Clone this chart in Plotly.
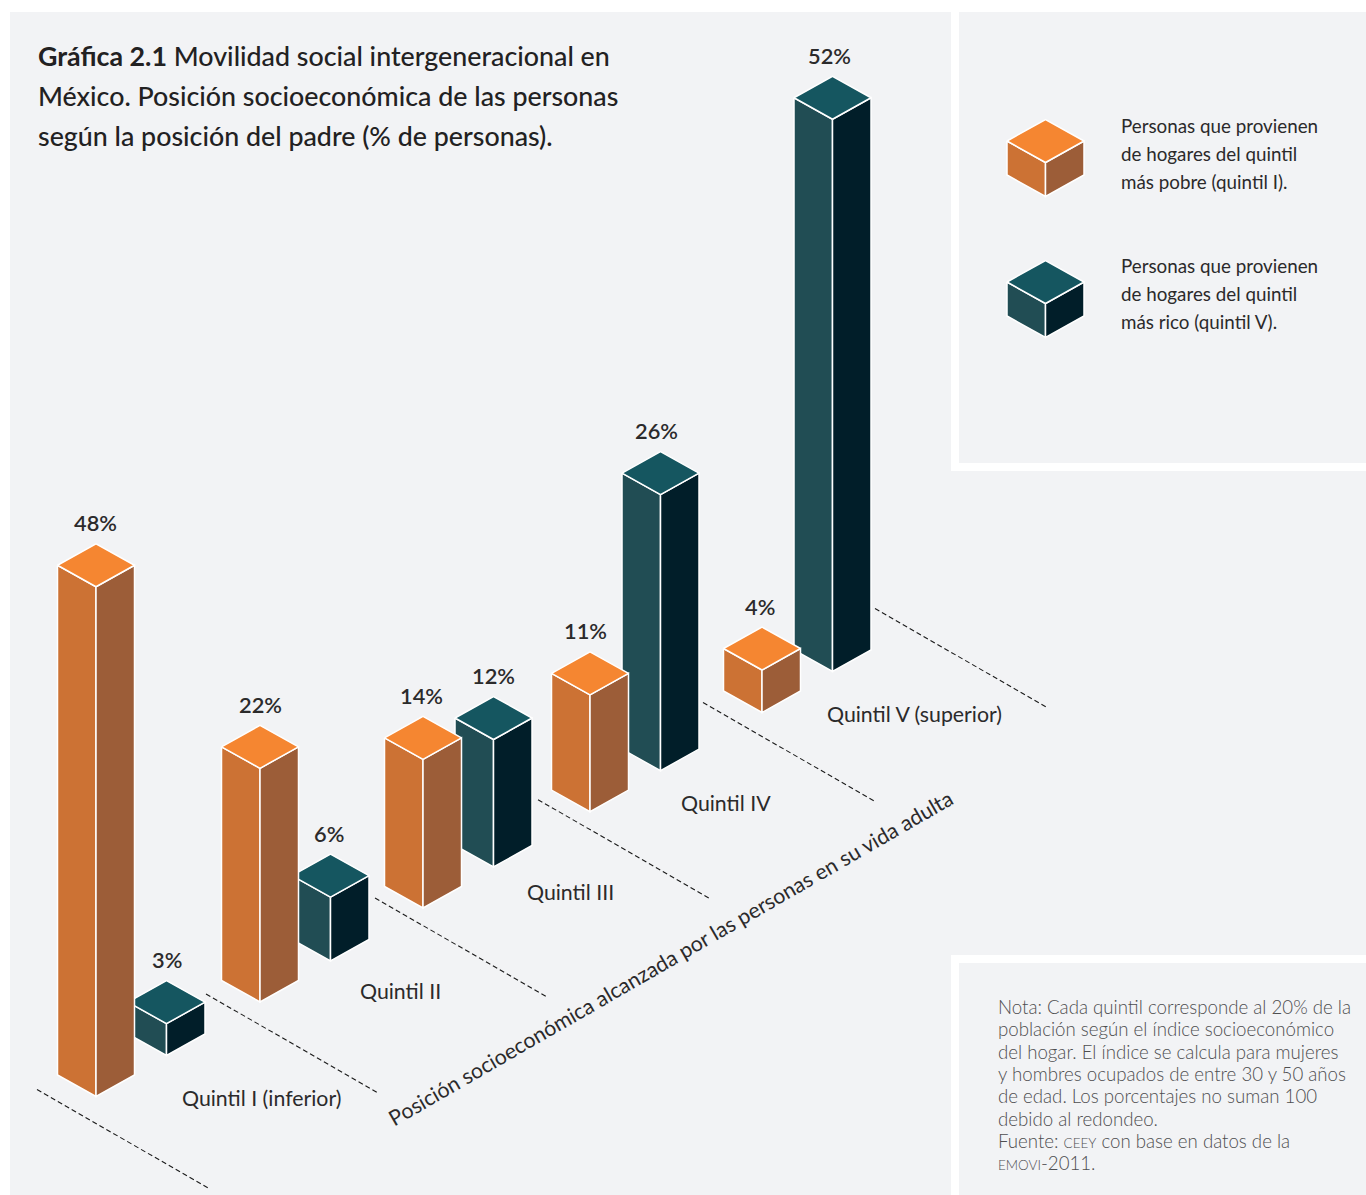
import plotly.graph_objects as go

# Share of people by adult socioeconomic position, per quintile of origin
quintiles = ["Quintil I (inferior)", "Quintil II", "Quintil III", "Quintil IV", "Quintil V (superior)"]
poorest_origin = [48, 22, 14, 11, 4]
richest_origin = [3, 6, 12, 26, 52]

title_lines = [
    "<b>Gráfica 2.1</b> Movilidad social intergeneracional en",
    "México. Posición socioeconómica de las personas",
    "según la posición del padre (% de personas).",
]
legend_poor = ["Personas que provienen", "de hogares del quintil", "más pobre (quintil I)."]
legend_rich = ["Personas que provienen", "de hogares del quintil", "más rico (quintil V)."]
small = '<span style="font-size:13.5px">{}</span>'
note_lines = [
    "Nota: Cada quintil corresponde al 20% de la",
    "población según el índice socioeconómico",
    "del hogar. El índice se calcula para mujeres",
    "y hombres ocupados de entre 30 y 50 años",
    "de edad. Los porcentajes no suman 100",
    "debido al redondeo.",
    "Fuente: " + small.format("CEEY") + " con base en datos de la",
    small.format("EMOVI") + "-2011.",
]
axis_title = "Posición socioeconómica alcanzada por las personas en su vida adulta"

# Isometric projection on a page-sized pixel axis
PX_PER_PCT = 10.62
HALF_W, HALF_D = 38.5, 21.5
ORIGIN = (96, 1096.5)
STEP = (166.5, -96)
SLOTS = [0, 0.985, 1.964, 2.967, 4]
SERIES_SHIFT = (70.5, -41)
SEPARATOR = (172, 99)
SEPARATOR_START_OFFSET = [(-59, -7), (-54, -8), (-48, -10), (-52, -12), (-59, -10)]
LABEL_CENTRES = [(261, 1098), (400, 991), (570, 892), (726, 803), (914, 714)]
# Small horizontal offsets that keep the percentage labels clear of neighbouring bars
POOR_LABEL_NUDGE = [-1, 0, -2, -5, -2]
RICH_LABEL_NUDGE = [0, -2, 0, -4, -3]

PANEL = "#F2F3F5"
INK = "#2B2A2B"
ORANGE = dict(top="#F58631", left="#CC7234", right="#9C5D38")
TEAL = dict(top="#155660", left="#214D54", right="#011E29")
DASHED = dict(color="#1A1A1A", width=1.1, dash="5px,3px")

fig = go.Figure()


def face(xs, ys, color):
    fig.add_trace(go.Scatter(
        x=xs + xs[:1], y=ys + ys[:1], mode="lines", fill="toself", fillcolor=color,
        line=dict(color="white", width=1.5), hoverinfo="skip", showlegend=False,
    ))


def prism(xc, y_bottom, height, palette):
    y_top = y_bottom - height
    face([xc - HALF_W, xc, xc, xc - HALF_W],
         [y_top - HALF_D, y_top, y_bottom, y_bottom - HALF_D], palette["left"])
    face([xc, xc + HALF_W, xc + HALF_W, xc],
         [y_top, y_top - HALF_D, y_bottom - HALF_D, y_bottom], palette["right"])
    face([xc, xc + HALF_W, xc, xc - HALF_W],
         [y_top, y_top - HALF_D, y_top - 2 * HALF_D, y_top - HALF_D], palette["top"])
    return y_top - 2 * HALF_D


def label(x, y, text, size, color=INK, weight=400, anchor="center", angle=0):
    fig.add_annotation(
        x=x, y=y, text=text, showarrow=False, xanchor=anchor, yanchor="middle", textangle=angle,
        font=dict(family="Lato", size=size, color=color, weight=weight), align="left",
    )


# Bars are painted from the far quintile to the near one, teal behind orange
for i in reversed(range(len(quintiles))):
    bx = ORIGIN[0] + STEP[0] * SLOTS[i]
    by = ORIGIN[1] + STEP[1] * SLOTS[i]
    apex = prism(bx + SERIES_SHIFT[0], by + SERIES_SHIFT[1], richest_origin[i] * PX_PER_PCT, TEAL)
    label(bx + SERIES_SHIFT[0] + RICH_LABEL_NUDGE[i], apex - 21, f"{richest_origin[i]}%", 21.8, weight=600)
    apex = prism(bx, by, poorest_origin[i] * PX_PER_PCT, ORANGE)
    label(bx + POOR_LABEL_NUDGE[i], apex - 21, f"{poorest_origin[i]}%", 21.8, weight=600)

# Dashed separators between quintile rows
for i in range(len(quintiles)):
    bx = ORIGIN[0] + STEP[0] * SLOTS[i]
    by = ORIGIN[1] + STEP[1] * SLOTS[i]
    sx, sy = bx + SEPARATOR_START_OFFSET[i][0], by + SEPARATOR_START_OFFSET[i][1]
    fig.add_trace(go.Scatter(
        x=[sx, sx + SEPARATOR[0]], y=[sy, sy + SEPARATOR[1]], mode="lines",
        line=DASHED, hoverinfo="skip", showlegend=False,
    ))
    # One more row closes the last quintile
    if i == len(quintiles) - 1:
        sx, sy = bx + SERIES_SHIFT[0] + 42.5, by + SERIES_SHIFT[1] - 63
        fig.add_trace(go.Scatter(
            x=[sx, sx + SEPARATOR[0]], y=[sy, sy + SEPARATOR[1]], mode="lines",
            line=DASHED, hoverinfo="skip", showlegend=False,
        ))

# Legend swatches
prism(1045.5, 196.5, 34, ORANGE)
prism(1045.5, 337.5, 34, TEAL)

for name, (x, y) in zip(quintiles, LABEL_CENTRES):
    label(x, y, name, 21.3)
label(670.5, 958, axis_title, 21.3, angle=-30)

for k, line in enumerate(title_lines):
    label(36, 56 + 40 * k, line, 26.8, color="#222122", weight=500, anchor="left")
for k, line in enumerate(legend_poor):
    label(1119, 125.5 + 28 * k, line, 18.8, anchor="left")
for k, line in enumerate(legend_rich):
    label(1119, 265.5 + 28 * k, line, 18.8, anchor="left")
for k, line in enumerate(note_lines):
    label(996, 1007 + 22.3 * k, line, 18.66, color="#4E4E50", weight=300, anchor="left")

# Background panels with their white gutters
panels = [(10, 12, 1366, 1195), ]
rules = [(951, 12, 959, 471), (951, 463, 1366, 471), (951, 955, 1366, 963), (951, 955, 959, 1195)]
for x0, y0, x1, y1 in panels:
    fig.add_shape(type="rect", x0=x0, y0=y0, x1=x1, y1=y1, fillcolor=PANEL, line_width=0, layer="below")
for x0, y0, x1, y1 in rules:
    fig.add_shape(type="rect", x0=x0, y0=y0, x1=x1, y1=y1, fillcolor="white", line_width=0, layer="below")

fig.update_layout(
    width=1366, height=1195, margin=dict(l=0, r=0, t=0, b=0),
    paper_bgcolor="white", plot_bgcolor="white", showlegend=False,
    xaxis=dict(range=[0, 1366], visible=False, fixedrange=True),
    yaxis=dict(range=[1195, 0], visible=False, fixedrange=True),
)
fig.write_html("out.html", config=dict(displayModeBar=False))
